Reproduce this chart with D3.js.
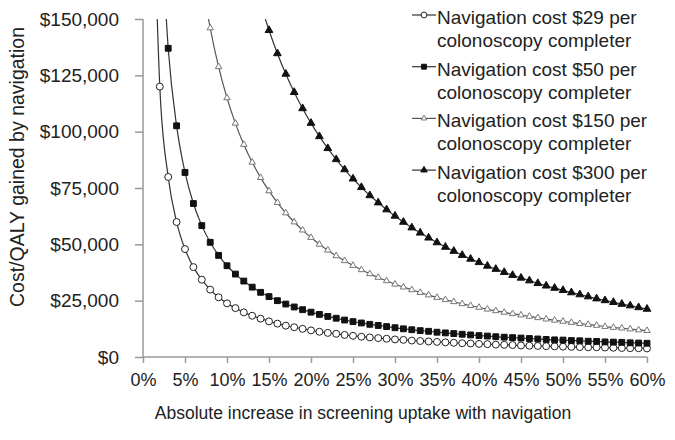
<!DOCTYPE html>
<html>
<head>
<meta charset="utf-8">
<script src="https://cdn.jsdelivr.net/npm/d3@7"></script>
<style>
  body { margin: 0; background: #fff; }
  text { font-family: "Liberation Sans", Arial, sans-serif; fill: #222; }
</style>
</head>
<body>
<div id="chart"></div>
<script>
// uptake (%) and cost/QALY ($), one point per 1%
var uptake = [1,2,3,4,5,6,7,8,9,10,11,12,13,14,15,16,17,18,19,20,
  21,22,23,24,25,26,27,28,29,30,31,32,33,34,35,36,37,38,39,40,
  41,42,43,44,45,46,47,48,49,50,51,52,53,54,55,56,57,58,59,60];

var cost29 = [240200,120000,79900,59900,47900,39900,34300,29900,26500,23800,
  21700,19800,18300,17000,15800,14800,13900,13200,12500,11800,
  11200,10700,10300,9800,9400,9000,8700,8400,8100,7800,
  7600,7300,7100,6900,6700,6500,6300,6100,6000,5800,
  5700,5500,5400,5300,5100,5000,4900,4800,4700,4600,
  4500,4400,4300,4300,4200,4100,4000,3900,3900,3800];

var cost50 = [null,205900,137000,102600,81900,68100,58300,50900,45100,40500,
  36800,33700,31000,28700,26800,25000,23500,22200,21000,19900,
  18900,18000,17200,16400,15700,15100,14500,14000,13500,13000,
  12500,12100,11700,11400,11000,10700,10400,10100,9800,9500,
  9300,9000,8800,8600,8400,8200,8000,7800,7600,7500,
  7300,7200,7000,6900,6700,6600,6500,6300,6200,6100];

var cost150 = [null,null,null,null,null,null,168100,146000,128800,115000,
  103700,94300,86400,79600,73700,68500,63900,59900,56300,53000,
  50000,47400,44900,42700,40600,38700,36900,35300,33800,32300,
  31000,29800,28600,27500,26400,25400,24500,23600,22800,22000,
  21200,20500,19800,19200,18600,18000,17400,16800,16300,15800,
  15300,14800,14400,14000,13500,13100,12800,12400,12000,11700];

var cost300 = [null,null,null,null,null,null,null,null,null,null,
  null,null,null,156800,145000,134700,125600,117500,110300,103800,
  97900,92600,87700,83200,79100,75300,71700,68500,65400,62600,
  59900,57400,55100,52900,50800,48800,47000,45200,43500,42000,
  40400,39000,37600,36300,35100,33900,32700,31600,30600,29600,
  28600,27700,26800,25900,25100,24300,23500,22800,22000,21300];

var xTicks = [0,5,10,15,20,25,30,35,40,45,50,55,60];
var yTicks = [0,25000,50000,75000,100000,125000,150000];

var seriesNames = [
  ["Navigation cost $29 per", "colonoscopy completer"],
  ["Navigation cost $50 per", "colonoscopy completer"],
  ["Navigation cost $150 per", "colonoscopy completer"],
  ["Navigation cost $300 per", "colonoscopy completer"]
];

var width = 675, height = 440;
var margin = {top: 19, right: 28, bottom: 83, left: 143};
var plotW = width - margin.left - margin.right,
    plotH = height - margin.top - margin.bottom;

var x = d3.scaleLinear().domain([0, 60]).range([0, plotW]);
var y = d3.scaleLinear().domain([0, 150000]).range([plotH, 0]);

var fmtDollar = d3.format("$,");

// marker style per series
var styles = [
  {values: cost29, symbol: d3.symbolCircle, size: 38, fill: "#fff", stroke: "#222", line: "#333"},
  {values: cost50, symbol: d3.symbolSquare, size: 34, fill: "#111", stroke: "#111", line: "#333"},
  {values: cost150, symbol: d3.symbolTriangle, size: 18, fill: "#fff", stroke: "#777", line: "#555"},
  {values: cost300, symbol: d3.symbolTriangle, size: 26, fill: "#111", stroke: "#111", line: "#333"}
];

var svg = d3.select("#chart").append("svg")
    .attr("width", width)
    .attr("height", height);

svg.append("defs").append("clipPath")
    .attr("id", "plot-clip")
  .append("rect")
    .attr("x", -10)
    .attr("y", 0)
    .attr("width", plotW + 20)
    .attr("height", plotH + 10);

var g = svg.append("g")
    .attr("transform", "translate(" + margin.left + "," + margin.top + ")");

// Y axis
var yAxis = g.append("g")
    .call(d3.axisLeft(y).tickValues(yTicks).tickSize(8).tickPadding(16).tickFormat(fmtDollar));
yAxis.selectAll("text").style("font-size", "19px");

// X axis
var xAxis = g.append("g")
    .attr("transform", "translate(0," + plotH + ")")
    .call(d3.axisBottom(x).tickValues(xTicks).tickSize(6).tickPadding(10)
      .tickFormat(function(d) { return d + "%"; }));
xAxis.selectAll("text").style("font-size", "18px");

g.selectAll(".domain, .tick line")
    .attr("stroke", "#9a9a9a")
    .attr("stroke-width", 1.5);
g.selectAll(".domain").each(function() {
  // drop the outer ticks d3 bakes into the domain path
  var self = d3.select(this);
  if (this.parentNode === yAxis.node()) self.attr("d", "M0," + plotH + "V0");
  else self.attr("d", "M0,0H" + plotW);
});

// Axis titles
svg.append("text")
    .attr("x", 363)
    .attr("y", 419)
    .attr("text-anchor", "middle")
    .style("font-size", "17.5px")
    .text("Absolute increase in screening uptake with navigation");

svg.append("text")
    .attr("transform", "translate(24,167) rotate(-90)")
    .attr("text-anchor", "middle")
    .style("font-size", "19.5px")
    .text("Cost/QALY gained by navigation");

// curves + markers
var plot = g.append("g").attr("clip-path", "url(#plot-clip)");

var line = d3.line()
    .defined(function(d) { return d.v != null; })
    .x(function(d) { return x(d.u); })
    .y(function(d) { return y(d.v); })
    .curve(d3.curveMonotoneX);

styles.forEach(function(s) {
  var data = uptake.map(function(u, i) { return {u: u, v: s.values[i]}; })
      .filter(function(d) { return d.v != null; });

  plot.append("path")
      .datum(data)
      .attr("fill", "none")
      .attr("stroke", s.line)
      .attr("stroke-width", 1.2)
      .attr("d", line);

  plot.selectAll(null)
      .data(data)
      .enter().append("path")
      .attr("transform", function(d) { return "translate(" + x(d.u) + "," + y(d.v) + ")"; })
      .attr("d", d3.symbol().type(s.symbol).size(s.size))
      .attr("fill", s.fill)
      .attr("stroke", s.stroke)
      .attr("stroke-width", 1);
});

// Legend
var legend = svg.append("g").attr("transform", "translate(412,15)");
styles.forEach(function(s, i) {
  var row = legend.append("g").attr("transform", "translate(0," + (i * 51.7) + ")");
  row.append("line")
      .attr("x1", 0).attr("x2", 24)
      .attr("stroke", s.line)
      .attr("stroke-width", 1.2);
  row.append("path")
      .attr("transform", "translate(12,0)")
      .attr("d", d3.symbol().type(s.symbol).size(s.size * 0.7))
      .attr("fill", s.fill)
      .attr("stroke", s.stroke);
  row.append("text")
      .attr("x", 25)
      .attr("y", 9)
      .style("font-size", "19px")
      .text(seriesNames[i][0]);
  row.append("text")
      .attr("x", 25)
      .attr("y", 32)
      .style("font-size", "19px")
      .text(seriesNames[i][1]);
});
</script>
</body>
</html>
